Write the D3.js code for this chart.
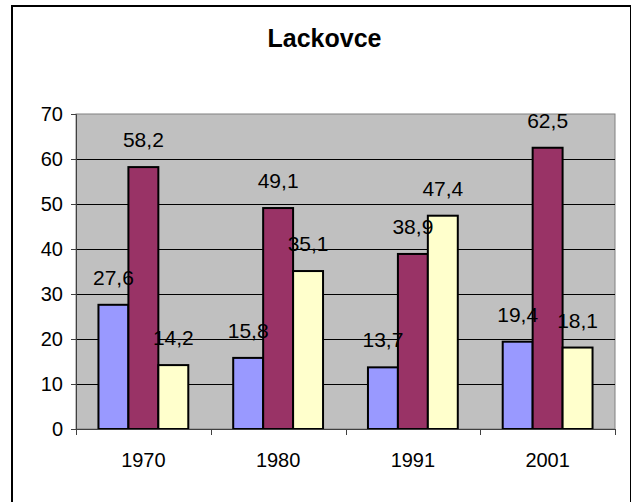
<!DOCTYPE html>
<html>
<head>
<meta charset="utf-8">
<script src="https://cdn.jsdelivr.net/npm/d3@7"></script>
<style>
  body { margin: 0; background: #fff; }
  text { font-family: Arial, "Liberation Sans", sans-serif; }
</style>
</head>
<body>
<div id="chart"></div>
<script>
// chart data
var title = "Lackovce";
var years = ["1970", "1980", "1991", "2001"];
var seriesNames = ["s1", "s2", "s3"];
var series1 = [27.6, 15.8, 13.7, 19.4];
var series2 = [58.2, 49.1, 38.9, 62.5];
var series3 = [14.2, 35.1, 47.4, 18.1];
var yTicks = [0, 10, 20, 30, 40, 50, 60, 70];
var colors = ["#9999FF", "#993366", "#FFFFCC"];

var W = 632, H = 502;
var plot = {left: 76, top: 114, right: 615, bottom: 429};

var svg = d3.select("#chart").append("svg")
    .attr("width", W)
    .attr("height", H);

// outer chart frame
svg.append("rect")
    .attr("x", 12).attr("y", 6)
    .attr("width", 618).attr("height", 510)
    .attr("fill", "#fff")
    .attr("stroke", "none");
svg.append("line").attr("x1", 12).attr("x2", 12).attr("y1", 5).attr("y2", H)
    .attr("stroke", "#000").attr("stroke-width", 2);
svg.append("line").attr("x1", 11).attr("x2", 631).attr("y1", 6).attr("y2", 6)
    .attr("stroke", "#000").attr("stroke-width", 2);
svg.append("line").attr("x1", 630.5).attr("x2", 630.5).attr("y1", 6).attr("y2", H)
    .attr("stroke", "#000").attr("stroke-width", 1);

svg.append("text")
    .attr("x", 324.5).attr("y", 47)
    .attr("text-anchor", "middle")
    .attr("font-size", "25px")
    .attr("font-weight", "bold")
    .text(title);

var x0 = d3.scaleBand()
    .domain(years)
    .range([plot.left, plot.right])
    .paddingInner(0)
    .paddingOuter(0);

// gap width 150% -> each bar is 1/4.5 of a category
var bw = x0.bandwidth() / 4.5;
var x1 = d3.scaleBand()
    .domain(seriesNames)
    .range([bw * 0.75, bw * 3.75]);

var y = d3.scaleLinear()
    .domain([0, 70])
    .range([plot.bottom, plot.top]);

// plot area
svg.append("rect")
    .attr("x", plot.left).attr("y", plot.top)
    .attr("width", plot.right - plot.left)
    .attr("height", plot.bottom - plot.top)
    .attr("fill", "#C0C0C0")
    .attr("stroke", "#808080")
    .attr("stroke-width", 1);

// gridlines
svg.append("g").selectAll("line")
    .data(yTicks.filter(d => d > 0 && d < 70))
    .enter().append("line")
    .attr("x1", plot.left).attr("x2", plot.right)
    .attr("y1", d => Math.round(y(d)) + 0.5)
    .attr("y2", d => Math.round(y(d)) + 0.5)
    .attr("stroke", "#000")
    .attr("stroke-width", 1);

// y axis
var yAxis = svg.append("g")
    .attr("transform", "translate(" + plot.left + ",0)")
    .call(d3.axisLeft(y).tickValues(yTicks).tickSize(5).tickPadding(8));
yAxis.select(".domain").attr("stroke", "#404040");
yAxis.selectAll(".tick line").attr("stroke", "#404040");
yAxis.selectAll("text")
    .attr("font-size", "20px")
    .attr("fill", "#000")
    .attr("font-family", "Arial, 'Liberation Sans', sans-serif");

// bars
var rows = years.map(function(yr, i) {
    return {year: yr, values: [series1[i], series2[i], series3[i]]};
});

var groups = svg.append("g").selectAll("g")
    .data(rows)
    .enter().append("g")
    .attr("transform", d => "translate(" + x0(d.year) + ",0)");

groups.selectAll("rect")
    .data(d => d.values.map((v, j) => ({key: seriesNames[j], value: v, j: j})))
    .enter().append("rect")
    .attr("x", d => x1(d.key))
    .attr("y", d => y(d.value))
    .attr("width", x1.bandwidth())
    .attr("height", d => y(0) - y(d.value))
    .attr("fill", d => colors[d.j])
    .attr("stroke", "#000")
    .attr("stroke-width", 2);

// data labels
var fmt = d3.formatLocale({decimal: ",", thousands: " ", grouping: [3], currency: ["", ""]}).format(".1f");
groups.selectAll("text")
    .data(d => d.values.map((v, j) => ({key: seriesNames[j], value: v})))
    .enter().append("text")
    .attr("x", d => x1(d.key) + x1.bandwidth() / 2)
    .attr("y", d => y(d.value) - 20)
    .attr("text-anchor", "middle")
    .attr("font-size", "21px")
    .text(d => fmt(d.value));

// x axis
var xAxis = svg.append("g")
    .attr("transform", "translate(0," + plot.bottom + ")")
    .call(d3.axisBottom(x0).tickSize(0).tickPadding(0));
xAxis.select(".domain").attr("stroke", "#404040");
xAxis.selectAll("text")
    .attr("y", 38)
    .attr("dy", 0)
    .attr("font-size", "20px")
    .attr("fill", "#000")
    .attr("font-family", "Arial, 'Liberation Sans', sans-serif");

// category boundary ticks
svg.append("g").selectAll("line")
    .data(years.concat(["end"]))
    .enter().append("line")
    .attr("x1", (d, i) => Math.round(plot.left + i * x0.bandwidth()) + 0.5)
    .attr("x2", (d, i) => Math.round(plot.left + i * x0.bandwidth()) + 0.5)
    .attr("y1", plot.bottom)
    .attr("y2", plot.bottom + 6)
    .attr("stroke", "#404040");
</script>
</body>
</html>
